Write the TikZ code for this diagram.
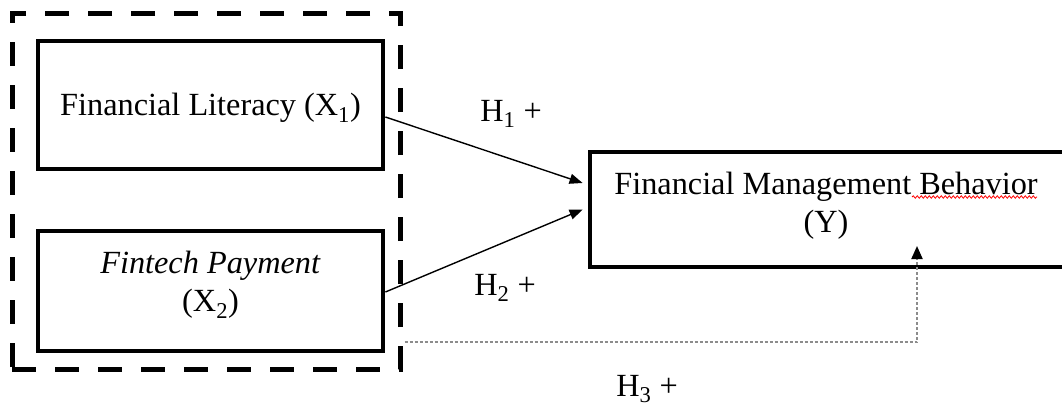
\documentclass[tikz,border=0pt]{standalone}
\usepackage{fontspec}
\setmainfont{Liberation Serif}
\usetikzlibrary{arrows.meta,decorations.pathmorphing,calc}
\begin{document}
\begin{tikzpicture}[x=1pt,y=-1pt,
  varbox/.style={draw=black,line width=4.8pt,inner sep=0pt,rectangle},
  grpbox/.style={draw=black,line width=5pt,dash pattern=on 24pt off 19pt,inner sep=0pt,rectangle},
  lbl/.style={inner sep=0pt,align=center,font=\fontsize{32.3}{38}\selectfont},
  conn/.style={line width=1.4pt,-{Triangle[length=13pt,width=10pt]}},
  dotconn/.style={draw=black!45,line width=2pt,dash pattern=on 3pt off 2pt,
    -{Triangle[length=13pt,width=11pt,color=black]}},
  squiggle/.style={red,line width=0.8pt,decorate,decoration={snake,amplitude=1.2pt,segment length=4pt}}
]
\useasboundingbox (0,0) rectangle (1062,407);
\node[grpbox,minimum width=388pt,minimum height=356pt] (grp) at (206,191) {};
\node[varbox,minimum width=345pt,minimum height=128pt] (x1) at (210.5,105) {};
\node[varbox,minimum width=345pt,minimum height=120pt] (x2) at (210.5,291) {};
\node[varbox,minimum width=620pt,minimum height=115pt] (y) at (900,209.5) {};
\node[lbl] (x1t) at ([yshift=-3pt]x1.center) {Financial Literacy (X\textsubscript{1})};
\node[lbl] (x2t) at ([yshift=6pt]x2.center) {\textit{Fintech Payment}\\(X\textsubscript{2})};
\node[lbl] (ytext) at (826,206) {Financial Management Behavior\\(Y)};
\draw[squiggle] (912,197) -- (1037,197);
\node[lbl] (h1) at (511,114) {H\textsubscript{1} +};
\node[lbl] (h2) at (505,288) {H\textsubscript{2} +};
\node[lbl] (h3) at (647,389) {H\textsubscript{3} +};
\coordinate (h3end) at (917,246);
\draw[conn] ([yshift=-12pt]x1.east) -- ([xshift=-5pt,yshift=26.5pt]y.west);
\draw[conn] ([yshift=-1pt]x2.east) -- ([xshift=-5pt]y.west);
\draw[dotconn] ([xshift=2pt,yshift=-151pt]grp.east) -| (h3end);
\end{tikzpicture}
\end{document}
